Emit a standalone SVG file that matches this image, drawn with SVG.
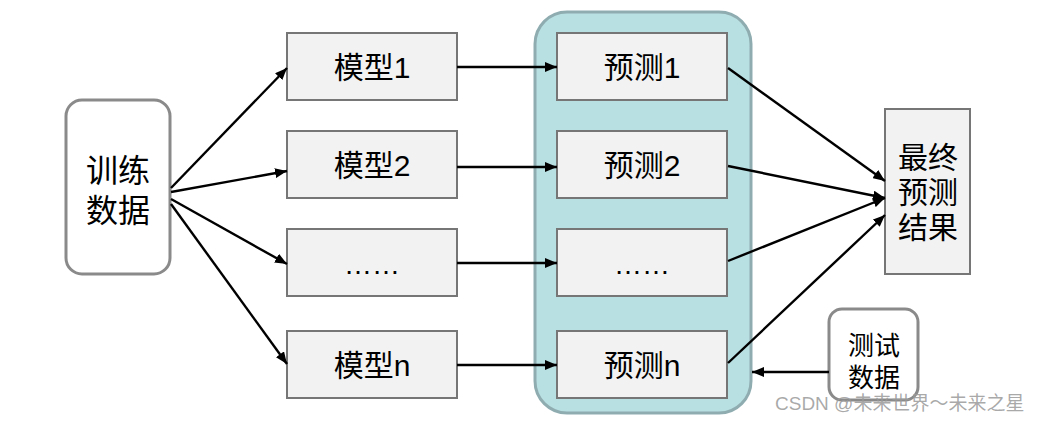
<svg xmlns="http://www.w3.org/2000/svg" width="1041" height="422" viewBox="0 0 1041 422">
<defs>
<marker id="ah" markerWidth="12" markerHeight="10" refX="12" refY="5" orient="auto" markerUnits="userSpaceOnUse">
<path d="M0,0 L12,5 L0,10 z" fill="#000"/>
</marker>
<style>
.box{fill:#f2f2f2;stroke:#767676;stroke-width:2}
.rbox{fill:#fff;stroke:#8a8a8a;stroke-width:3}
.t{font-family:"Liberation Sans","Noto Sans CJK SC",sans-serif;fill:#000;text-anchor:middle}
.c{stroke:#000;stroke-width:2.4;fill:none;marker-end:url(#ah)}
</style>
</defs>
<rect width="1041" height="422" fill="#fff"/>
<g id="container">
<rect x="535" y="12" width="216" height="401" rx="32" fill="#b8dfe2" stroke="#8fadb1" stroke-width="3"/>
</g>
<g id="train">
<rect class="rbox" x="66" y="100" width="104" height="174" rx="16"/>
<text class="t" x="118" y="182" font-size="32">训练</text>
<text class="t" x="118" y="222" font-size="32">数据</text>
</g>
<g id="m1"><rect class="box" x="287" y="33" width="170" height="67"/><text class="t" x="372" y="78" font-size="30">模型1</text></g>
<g id="m2"><rect class="box" x="287" y="131" width="170" height="67"/><text class="t" x="372" y="176" font-size="30">模型2</text></g>
<g id="m3"><rect class="box" x="287" y="229" width="170" height="67"/><text class="t" x="372" y="274" font-size="28">……</text></g>
<g id="mn"><rect class="box" x="287" y="331" width="170" height="67"/><text class="t" x="372" y="376" font-size="30">模型n</text></g>
<g id="p1"><rect class="box" x="557" y="33" width="170" height="67"/><text class="t" x="642" y="78" font-size="30">预测1</text></g>
<g id="p2"><rect class="box" x="557" y="131" width="170" height="67"/><text class="t" x="642" y="176" font-size="30">预测2</text></g>
<g id="p3"><rect class="box" x="557" y="229" width="170" height="67"/><text class="t" x="642" y="274" font-size="28">……</text></g>
<g id="pn"><rect class="box" x="557" y="331" width="170" height="67"/><text class="t" x="642" y="376" font-size="30">预测n</text></g>
<g id="final">
<rect class="box" x="885" y="109" width="85" height="165"/>
<text class="t" x="928" y="168" font-size="30">最终</text>
<text class="t" x="928" y="203" font-size="30">预测</text>
<text class="t" x="928" y="238" font-size="30">结果</text>
</g>
<g id="test">
<rect class="rbox" x="829" y="309" width="89" height="91" rx="13"/>
<text class="t" x="874" y="355" font-size="26">测试</text>
<text class="t" x="874" y="387" font-size="26">数据</text>
</g>
<g id="connectors">
<line class="c" x1="171" y1="188" x2="287" y2="68"/>
<line class="c" x1="171" y1="192" x2="287" y2="171"/>
<line class="c" x1="171" y1="199" x2="287" y2="264"/>
<line class="c" x1="171" y1="204" x2="287" y2="364"/>
<line class="c" x1="457" y1="67" x2="557" y2="67"/>
<line class="c" x1="457" y1="167" x2="557" y2="167"/>
<line class="c" x1="457" y1="263" x2="557" y2="263"/>
<line class="c" x1="457" y1="365" x2="557" y2="365"/>
<line class="c" x1="728" y1="68" x2="885" y2="181"/>
<line class="c" x1="728" y1="166" x2="885" y2="198"/>
<line class="c" x1="728" y1="261" x2="885" y2="198"/>
<line class="c" x1="728" y1="363" x2="885" y2="215"/>
<line class="c" x1="829" y1="372" x2="752" y2="372"/>
</g>
<text x="775" y="410" font-family="Liberation Sans,'Noto Sans CJK SC',sans-serif" font-size="19" fill="#9a9a9a" fill-opacity="0.85">CSDN @未来世界～未来之星</text>
</svg>
